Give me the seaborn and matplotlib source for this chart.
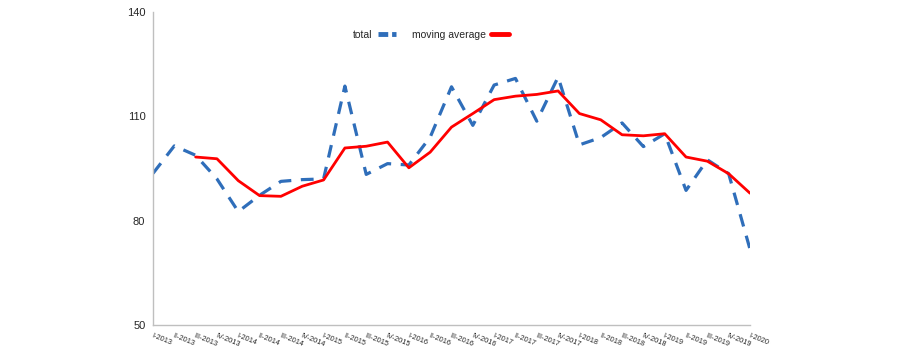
import matplotlib
matplotlib.use("Agg")
import matplotlib.pyplot as plt
import seaborn as sns
import pandas as pd
import numpy as np

quarters = ["I-2013", "II-2013", "III-2013", "IV-2013",
            "I-2014", "II-2014", "III-2014", "IV-2014",
            "I-2015", "II-2015", "III-2015", "IV-2015",
            "I-2016", "II-2016", "III-2016", "IV-2016",
            "I-2017", "II-2017", "III-2017", "IV-2017",
            "I-2018", "II-2018", "III-2018", "IV-2018",
            "I-2019", "II-2019", "III-2019", "IV-2019",
            "I-2020"]

total = [93.6, 101.5, 98.8, 92.0, 82.6, 87.3, 91.3, 91.8, 92.0, 118.7,
         93.3, 96.4, 96.0, 104.0, 118.5, 107.4, 119.0, 120.9, 108.6, 121.3,
         101.8, 103.9, 108.1, 101.3, 105.0, 88.7, 97.5, 93.5, 71.8]

moving_avg = [np.nan, np.nan, 98.3, 97.8, 91.5, 87.2, 87.0, 89.9, 91.7, 100.9,
              101.4, 102.6, 95.2, 99.7, 106.9, 110.8, 114.8, 115.8, 116.3, 117.3,
              110.8, 109.0, 104.7, 104.4, 105.0, 98.3, 97.1, 93.5, 87.9]

yticks = [50, 80, 110, 140]

sns.set_style("white")
plt.rcParams['font.family'] = ['Liberation Sans', 'DejaVu Sans']

df = pd.DataFrame({"x": np.arange(len(quarters)), "total": total, "moving average": moving_avg})

fig = plt.figure(figsize=(8.99, 3.47), dpi=100)
ax = fig.add_axes([153/899, 1 - 325/347, (750 - 153)/899, (325 - 12)/347])

sns.lineplot(data=df, x="x", y="total", ax=ax, color="#2F6EBA", lw=2.3,
             dashes=False, label="total")
ax.lines[-1].set_dashes([4, 3])
sns.lineplot(data=df, x="x", y="moving average", ax=ax, color="#FF0000", lw=2.0,
             label="moving average")

ax.set_xlim(0, len(quarters) - 1)
ax.set_ylim(50, 140)
ax.set_yticks(yticks)
ax.set_yticklabels([str(v) for v in yticks], fontsize=8)
ax.set_xticks(np.arange(len(quarters)))
ax.set_xticklabels(quarters, fontsize=5.3, rotation=-22, ha="left", rotation_mode="anchor")
ax.set_xlabel("")
ax.set_ylabel("")

for s in ["top", "right"]:
    ax.spines[s].set_visible(False)
for s in ["left", "bottom"]:
    ax.spines[s].set_color("#BFBFBF")
    ax.spines[s].set_linewidth(1.0)
ax.tick_params(axis="both", which="both", direction="out", length=2.5, color="#BFBFBF", width=1.0)
ax.tick_params(axis="x", pad=2.5)
ax.tick_params(axis="y", pad=3)

leg = ax.legend(loc="center", bbox_to_anchor=(0.466, 0.927), ncol=2, frameon=False,
                markerfirst=False, fontsize=7.5, handlelength=1.7, columnspacing=1.6,
                handletextpad=0.5)
leg.get_lines()[0].set_dashes([2.0, 0.8])
leg.get_lines()[0].set_linewidth(3.5)
leg.get_lines()[1].set_linewidth(3.5)

fig.savefig("out.png", dpi=100)
